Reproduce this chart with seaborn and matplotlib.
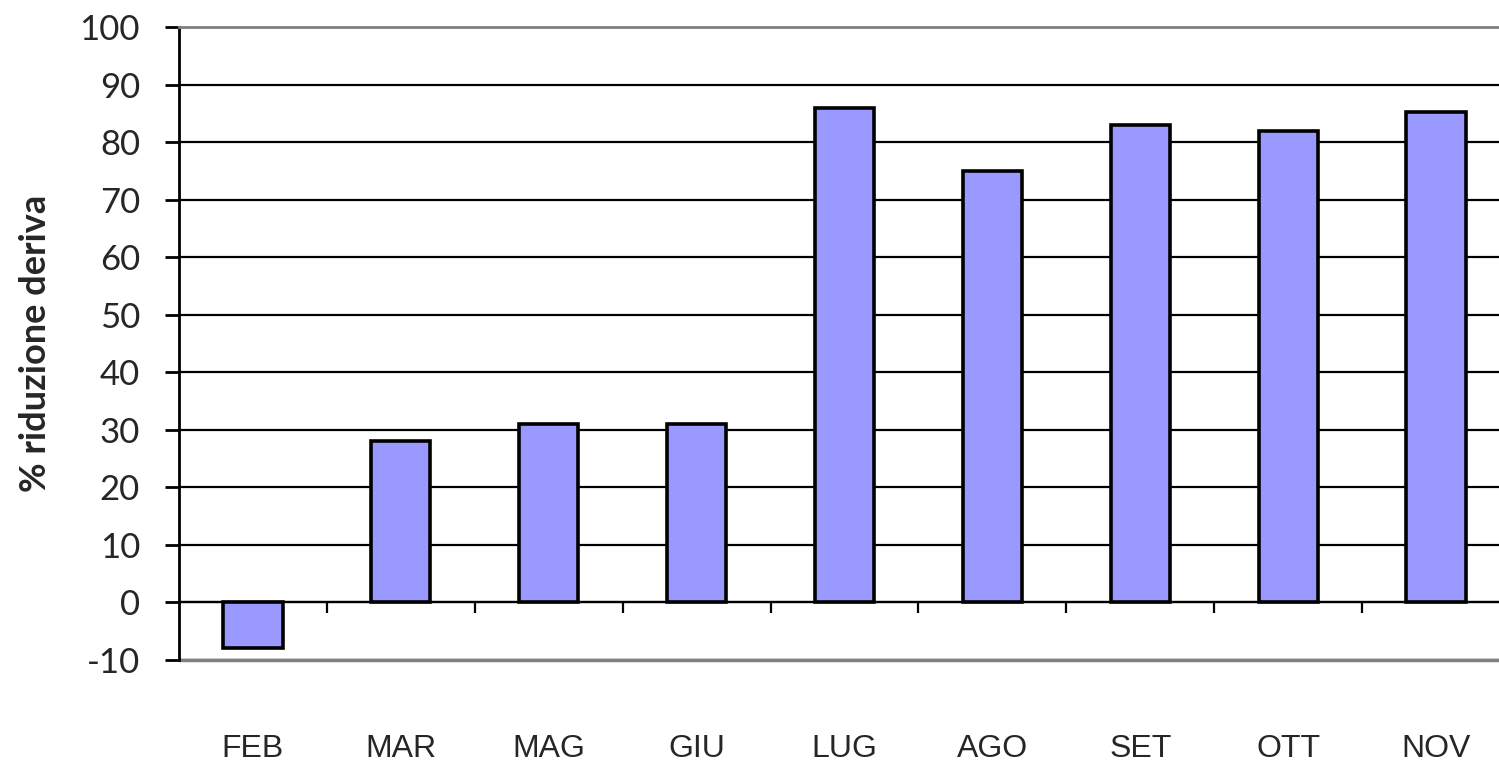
import matplotlib
matplotlib.use("Agg")
import matplotlib.pyplot as plt
import seaborn as sns
import pandas as pd
import numpy as np

months = ["FEB", "MAR", "MAG", "GIU", "LUG", "AGO", "SET", "OTT", "NOV"]
reduction = [-8, 28, 31, 31, 86, 75, 83, 82, 85.3]
y_ticks = list(range(-10, 101, 10))

df = pd.DataFrame({"mese": months, "riduzione": reduction})

sns.set_theme(style="white")
plt.rcParams["font.family"] = ["Lato", "DejaVu Sans"]

fig = plt.figure(figsize=(14.99, 7.62), dpi=100)
ax = fig.add_axes([179 / 1499, 1 - 660 / 762, (1510 - 179) / 1499, (660 - 27) / 762])

sns.barplot(data=df, x="mese", y="riduzione", color="#9999FF", saturation=1,
            width=0.4, edgecolor="black", linewidth=2.6, ax=ax, zorder=3)

ax.set_xlim(-0.5, len(months) - 0.5)
ax.set_ylim(-10, 100)
ax.set_yticks(y_ticks)
ax.set_yticklabels([str(v) for v in y_ticks], fontsize=25)

# horizontal gridlines
ax.yaxis.grid(True, color="black", linewidth=1.6, zorder=1)
ax.xaxis.grid(False)

# category axis sits at zero, with boundary ticks hanging below it
ax.spines["bottom"].set_position(("data", 0))
ax.spines["bottom"].set_color("black")
ax.spines["bottom"].set_linewidth(1.6)
ax.spines["right"].set_visible(False)
ax.spines["top"].set_color("#808080")
ax.spines["top"].set_linewidth(2)
ax.spines["left"].set_color("black")
ax.spines["left"].set_linewidth(2)
ax.axhline(-10, color="#808080", linewidth=2.5, zorder=2, clip_on=False)

ax.set_xticks(np.arange(len(months)))
ax.set_xticklabels(months, fontsize=23, family=["Liberation Sans", "DejaVu Sans"])
ax.set_xticks(np.arange(0.5, len(months) - 1, 1), minor=True)
ax.tick_params(axis="x", which="major", length=0, pad=95)
ax.tick_params(axis="x", which="minor", length=8, width=1.6, color="black", direction="out", bottom=True)
ax.tick_params(axis="y", which="major", length=10, width=2, color="black", direction="out", left=True, pad=18)

ax.set_xlabel("")
ax.set_ylabel("% riduzione deriva", fontsize=26, fontweight="bold", labelpad=20)

fig.savefig("out.png", dpi=100)
